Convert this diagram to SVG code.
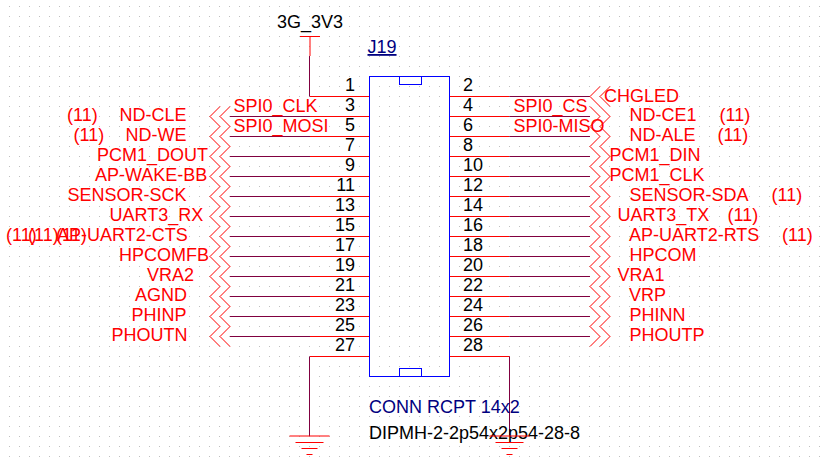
<svg xmlns="http://www.w3.org/2000/svg" width="822" height="466" viewBox="0 0 822 466">
<style>
text{font-family:"Liberation Sans",Arial,sans-serif;font-size:18px}
.r{fill:#ff0000}.k{fill:#000000}.n{fill:#000080}
.pe{text-anchor:end}
.pin{stroke:#ff0000;stroke-width:1;fill:none}
.wire{stroke:#800040;stroke-width:1;fill:none}
.body{stroke:#0000ff;stroke-width:1;fill:none}
.off{stroke:#ff0000;stroke-width:1;fill:none}
</style>
<defs>
<pattern id="grid" x="9" y="6" width="10" height="10" patternUnits="userSpaceOnUse"><rect width="1" height="1" fill="#c0c0c0"/></pattern>
<g id="cl"><path class="off" d="M230 -10L220 0L230 10M220 -10L210 0L220 10"/></g>
<g id="cr"><path class="off" d="M590 -10L600 0L590 10M600 -10L610 0L600 10"/></g>
<g id="crl"><path class="off" d="M600 -10L590 0L600 10M610 -10L600 0L610 10"/></g>
<g id="gnd"><path class="pin" d="M-20 0H20M-14 6.500H14M-8 12.500H8M-3 18.500H3"/></g>
</defs>
<rect width="822" height="466" fill="#ffffff"/>
<rect width="822" height="466" fill="url(#grid)"/>
<g id="connectors">
<path class="pin" d="M310 36.500V56"/>
<path class="wire" d="M309.500 56V96.500"/>
<path class="pin" d="M310 96.500H369.500M310 116.500H369.500M310 136.500H369.500M310 156.500H369.500M310 176.500H369.500M310 196.500H369.500M310 216.500H369.500M310 236.500H369.500M310 256.500H369.500M310 276.500H369.500M310 296.500H369.500M310 316.500H369.500M310 336.500H369.500M310 356.500H369.500"/>
<path class="wire" d="M230 116.500H310M230 136.500H310M230 156.500H310M230 176.500H310M230 196.500H310M230 216.500H310M230 236.500H310M230 256.500H310M230 276.500H310M230 296.500H310M230 316.500H310M230 336.500H310"/>
<path class="wire" d="M309.500 356.500V436"/>
<path class="pin" d="M449.500 96.500H509.500M449.500 116.500H509.500M449.500 136.500H509.500M449.500 156.500H509.500M449.500 176.500H509.500M449.500 196.500H509.500M449.500 216.500H509.500M449.500 236.500H509.500M449.500 256.500H509.500M449.500 276.500H509.500M449.500 296.500H509.500M449.500 316.500H509.500M449.500 336.500H509.500M449.500 356.500H509.500"/>
<path class="wire" d="M509.500 96.500H590M509.500 116.500H590M509.500 136.500H590M509.500 156.500H590M509.500 176.500H590M509.500 196.500H590M509.500 216.500H590M509.500 236.500H590M509.500 256.500H590M509.500 276.500H590M509.500 296.500H590M509.500 316.500H590M509.500 336.500H590"/>
<path class="wire" d="M509.500 356.500V436"/>
</g>
<g id="J19">
<rect class="body" x="369.500" y="76.500" width="80" height="300"/>
<rect class="body" x="399.500" y="76.500" width="22" height="8"/>
<rect class="body" x="399.500" y="368.500" width="22" height="8"/>
<text class="n" x="367.500" y="53" text-decoration="underline">J19</text>
<text class="n" x="369" y="413">CONN RCPT 14x2</text>
<text class="k" x="369" y="439">DIPMH-2-2p54x2p54-28-8</text>
<text class="k pe" x="355" y="91">1</text><text class="k pe" x="355" y="111">3</text><text class="k pe" x="355" y="131">5</text><text class="k pe" x="355" y="151">7</text><text class="k pe" x="355" y="171">9</text><text class="k pe" x="355" y="191">11</text><text class="k pe" x="355" y="211">13</text><text class="k pe" x="355" y="231">15</text><text class="k pe" x="355" y="251">17</text><text class="k pe" x="355" y="271">19</text><text class="k pe" x="355" y="291">21</text><text class="k pe" x="355" y="311">23</text><text class="k pe" x="355" y="331">25</text><text class="k pe" x="355" y="351">27</text>
<text class="k" x="463" y="91">2</text><text class="k" x="463" y="111">4</text><text class="k" x="463" y="131">6</text><text class="k" x="463" y="151">8</text><text class="k" x="463" y="171">10</text><text class="k" x="463" y="191">12</text><text class="k" x="463" y="211">14</text><text class="k" x="463" y="231">16</text><text class="k" x="463" y="251">18</text><text class="k" x="463" y="271">20</text><text class="k" x="463" y="291">22</text><text class="k" x="463" y="311">24</text><text class="k" x="463" y="331">26</text><text class="k" x="463" y="351">28</text>
</g>
<g id="pwr-3G_3V3"><path class="pin" d="M300 36.500H320"/><text class="k" x="277" y="28">3G_3V3</text></g>
<g id="gnd-left"><use href="#gnd" x="309.500" y="436"/></g>
<g id="gnd-right"><use href="#gnd" x="509.500" y="436"/></g>
<g id="net-spi"><text class="r" x="233.500" y="112">SPI0_CLK</text><text class="r" x="233.500" y="132">SPI0_MOSI</text><text class="r" x="513.500" y="112">SPI0_CS</text><text class="r" x="513.500" y="132">SPI0-MISO</text></g>
<g id="net-nd-cle"><use href="#cl" y="116.500"/><text class="r" x="67" y="121">(11)</text><text class="r" x="119.500" y="121">ND-CLE</text></g>
<g id="net-nd-we"><use href="#cl" y="136.500"/><text class="r" x="73.500" y="141">(11)</text><text class="r" x="125.500" y="141">ND-WE</text></g>
<g id="net-pcm1-dout"><use href="#cl" y="156.500"/><text class="r" x="97" y="161">PCM1_DOUT</text></g>
<g id="net-ap-wake-bb"><use href="#cl" y="176.500"/><text class="r" x="95" y="181">AP-WAKE-BB</text></g>
<g id="net-sensor-sck"><use href="#cl" y="196.500"/><text class="r" x="67.500" y="201">SENSOR-SCK</text></g>
<g id="net-uart3-rx"><use href="#cl" y="216.500"/><text class="r" x="109.500" y="221">UART3_RX</text></g>
<g id="net-ap-uart2-cts"><use href="#cl" y="236.500"/><text class="r" x="6" y="241">(11)</text><text class="r" x="28" y="241">(11)</text><text class="r" x="56" y="241">(11)</text><text class="r" x="57" y="241">AP-UART2-CTS</text></g>
<g id="net-hpcomfb"><use href="#cl" y="256.500"/><text class="r" x="119" y="261">HPCOMFB</text></g>
<g id="net-vra2"><use href="#cl" y="276.500"/><text class="r" x="147" y="281">VRA2</text></g>
<g id="net-agnd"><use href="#cl" y="296.500"/><text class="r" x="135" y="301">AGND</text></g>
<g id="net-phinp"><use href="#cl" y="316.500"/><text class="r" x="131.500" y="321">PHINP</text></g>
<g id="net-phoutn"><use href="#cl" y="336.500"/><text class="r" x="111.500" y="341">PHOUTN</text></g>
<g id="net-chgled"><use href="#crl" y="96.500"/><text class="r" x="604" y="102">CHGLED</text></g>
<g id="net-nd-ce1"><use href="#cr" y="116.500"/><text class="r" x="629.500" y="121">ND-CE1</text><text class="r" x="719.500" y="121">(11)</text></g>
<g id="net-nd-ale"><use href="#cr" y="136.500"/><text class="r" x="629.500" y="141">ND-ALE</text><text class="r" x="717.500" y="141">(11)</text></g>
<g id="net-pcm1-din"><use href="#cr" y="156.500"/><text class="r" x="609.500" y="161">PCM1_DIN</text></g>
<g id="net-pcm1-clk"><use href="#cr" y="176.500"/><text class="r" x="609.500" y="181">PCM1_CLK</text></g>
<g id="net-sensor-sda"><use href="#cr" y="196.500"/><text class="r" x="629.500" y="201">SENSOR-SDA</text><text class="r" x="771.500" y="201">(11)</text></g>
<g id="net-uart3-tx"><use href="#cr" y="216.500"/><text class="r" x="617.500" y="221">UART3_TX</text><text class="r" x="727.500" y="221">(11)</text></g>
<g id="net-ap-uart2-rts"><use href="#cr" y="236.500"/><text class="r" x="629" y="241">AP-UART2-RTS</text><text class="r" x="782" y="241">(11)</text></g>
<g id="net-hpcom"><use href="#cr" y="256.500"/><text class="r" x="629.500" y="261">HPCOM</text></g>
<g id="net-vra1"><use href="#cr" y="276.500"/><text class="r" x="617.500" y="281">VRA1</text></g>
<g id="net-vrp"><use href="#cr" y="296.500"/><text class="r" x="629" y="301">VRP</text></g>
<g id="net-phinn"><use href="#cr" y="316.500"/><text class="r" x="629.500" y="321">PHINN</text></g>
<g id="net-phoutp"><use href="#cr" y="336.500"/><text class="r" x="629.500" y="341">PHOUTP</text></g>
</svg>
